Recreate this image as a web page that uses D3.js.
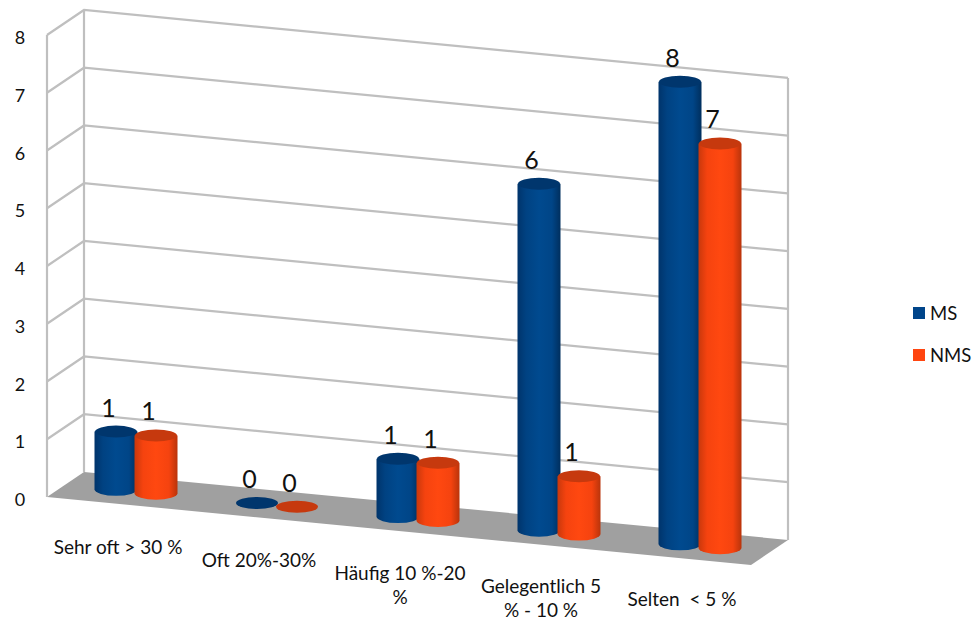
<!DOCTYPE html>
<html>
<head>
<meta charset="utf-8">
<script src="https://cdnjs.cloudflare.com/ajax/libs/d3/7.8.5/d3.min.js"></script>
<style>
html,body{margin:0;padding:0;background:#fff;overflow:hidden}
text{font-family:Lato,"Open Sans",sans-serif;fill:#111}
</style>
</head>
<body>
<svg id="chart" width="976" height="618"></svg>
<script>
// Frequency categories with their wrapped label lines
const categories = ["Sehr oft > 30 %", "Oft 20%-30%", "Häufig 10 %-20 %", "Gelegentlich 5 % - 10 %", "Selten  < 5 %"];
const categoryLines = [["Sehr oft > 30 %"], ["Oft 20%-30%"], ["Häufig 10 %-20", "%"], ["Gelegentlich 5", "% - 10 %"], ["Selten  < 5 %"]];
const seriesNames = ["MS", "NMS"];
const msValues = [1, 0, 1, 6, 8];
const nmsValues = [1, 0, 1, 1, 7];
const yTicks = [0, 1, 2, 3, 4, 5, 6, 7, 8];

const svg = d3.select("#chart");
const defs = svg.append("defs");

// Oblique projection: a floor that falls to the right, plus depth across it
const floorSlope = 0.0965;
const depthX = 37, depthY = -25;
const band = d3.scaleBand().domain(categories).range([65.5, 770.5]);
const series = d3.scalePoint().domain(seriesNames).range([-20, 20]);
const rise = d3.scaleLinear().domain([0, 8]).range([0, 462]);
const midFloorY = x => 484.5 + (x - 65.5) * floorSlope;
const frontLeft = {x: 47, y: 497};
const wallWidth = 704;
const gridColor = "#bfbfbf";

// Floor plane
const floorCorners = [
  [frontLeft.x, frontLeft.y],
  [frontLeft.x + depthX, frontLeft.y + depthY],
  [frontLeft.x + depthX + wallWidth, frontLeft.y + depthY + wallWidth * floorSlope],
  [frontLeft.x + wallWidth, frontLeft.y + wallWidth * floorSlope]
];
svg.append("polygon").attr("points", floorCorners.join(" ")).attr("fill", "#a0a0a0");

// Side wall and back wall gridlines
const grid = svg.append("g").attr("fill", "none").attr("stroke", gridColor).attr("stroke-width", 2.2);
grid.selectAll("polyline").data(yTicks.slice(1)).join("polyline")
  .attr("points", v => {
    const h = rise(v);
    return [
      [frontLeft.x, frontLeft.y - h],
      [frontLeft.x + depthX, frontLeft.y + depthY - h],
      [frontLeft.x + depthX + wallWidth, frontLeft.y + depthY + wallWidth * floorSlope - h]
    ].join(" ");
  });
[[0, 0], [depthX, depthY], [depthX + wallWidth, depthY + wallWidth * floorSlope]].forEach(([dx, dy]) => {
  grid.append("line")
    .attr("x1", frontLeft.x + dx).attr("x2", frontLeft.x + dx)
    .attr("y1", frontLeft.y + dy).attr("y2", frontLeft.y + dy - rise(8));
});

// Value axis labels
svg.append("g").selectAll("text").data(yTicks).join("text")
  .attr("x", 20).attr("y", v => frontLeft.y - rise(v) + 9)
  .attr("text-anchor", "middle").attr("font-size", 18)
  .text(d => d);

// Shaded cylinder fills
const shades = {
  MS: {stops: ["#00346b", "#004282", "#004a8f", "#004587", "#002f5e"], top: "#00366d"},
  NMS: {stops: ["#c9380c", "#f5430f", "#ff4810", "#f5430f", "#b9340b"], top: "#c6390e"}
};
seriesNames.forEach(name => {
  const g = defs.append("linearGradient").attr("id", "body-" + name);
  g.selectAll("stop").data(shades[name].stops).join("stop")
    .attr("offset", (d, i) => [0, 0.2, 0.5, 0.8, 1][i])
    .attr("stop-color", d => d);
});

const rx = 21.5, ry = 6.5;
const rows = [{name: "MS", values: msValues}, {name: "NMS", values: nmsValues}];
const columns = svg.append("g");
const dataLabels = svg.append("g");

categories.forEach((cat, i) => {
  rows.forEach(row => {
    const x = band(cat) + band.bandwidth() / 2 + series(row.name);
    const base = midFloorY(x);
    const top = base - rise(row.values[i]);
    if (row.values[i] > 0) {
      columns.append("path")
        .attr("d", `M${x - rx},${top}V${base}A${rx},${ry} 0 0 0 ${x + rx},${base}V${top}Z`)
        .attr("fill", `url(#body-${row.name})`);
    }
    columns.append("ellipse")
      .attr("cx", x).attr("cy", top).attr("rx", rx - 0.5).attr("ry", ry - 0.5)
      .attr("fill", shades[row.name].top);
    dataLabels.append("text")
      .attr("x", x - 7.5).attr("y", top - 15)
      .attr("text-anchor", "middle").attr("font-size", 25)
      .text(row.values[i]);
  });
});

// Category labels step down with the floor; the long ones wrap onto a second line
const catLabels = svg.append("g");
categories.forEach((cat, i) => {
  const x = band(cat) + band.bandwidth() / 2 - 18;
  const y = 554 + (x - 118) * 0.0925;
  const t = catLabels.append("text").attr("text-anchor", "middle").attr("font-size", 19);
  categoryLines[i].forEach((line, k) => {
    t.append("tspan").attr("x", x).attr("y", y + k * 24).style("white-space", "pre").text(line);
  });
});

// Legend
const legendColor = d3.scaleOrdinal().domain(seriesNames).range(["#00458a", "#ff4510"]);
const legendY = d3.scalePoint().domain(seriesNames).range([313, 355]);
const legend = svg.append("g").selectAll("g").data(seriesNames).join("g")
  .attr("transform", d => `translate(913,${legendY(d)})`);
legend.append("rect").attr("y", -6).attr("width", 12).attr("height", 12).attr("fill", legendColor);
legend.append("text").attr("x", 17).attr("y", 6.5).attr("font-size", 18.5).text(d => d);
</script>
</body>
</html>
